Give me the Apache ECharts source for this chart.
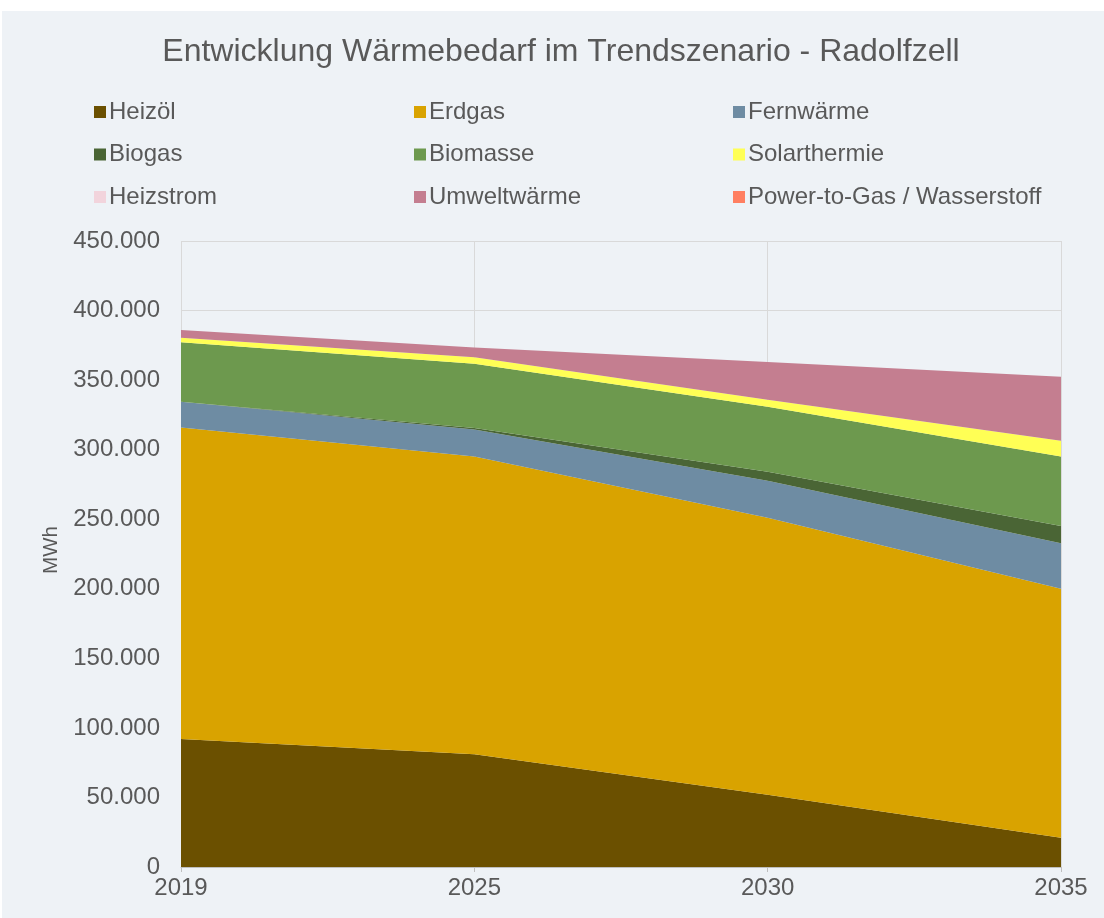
<!DOCTYPE html>
<html>
<head>
<meta charset="utf-8">
<title>Wärmebedarf Radolfzell</title>
<script src="https://cdn.jsdelivr.net/npm/echarts@6/dist/echarts.min.js"></script>
<style>
  html, body { margin: 0; padding: 0; background: #ffffff; }
  #bg { position: absolute; left: 2px; top: 11px; width: 1102px; height: 907px; background: #eef2f6; }
  #main { position: absolute; left: 0; top: 0; width: 1104px; height: 918px; }
</style>
</head>
<body>
<div id="bg"></div>
<div id="main"></div>
<script>
  var years = ['2019', '2025', '2030', '2035'];

  // MWh je Energieträger
  var heizoel    = [92000, 81000, 52000, 21000];
  var erdgas     = [224000, 214000, 199000, 179000];
  var fernwaerme = [18500, 19500, 26600, 32800];
  var biogas     = [0, 1000, 6500, 12400];
  var biomasse   = [42700, 46200, 46700, 49900];
  var solar      = [3300, 4700, 5000, 11300];
  var heizstrom  = [0, 0, 0, 0];
  var umwelt     = [5500, 7000, 27300, 46000];
  var p2g        = [0, 0, 0, 1000];

  var names  = ['Heizöl', 'Erdgas', 'Fernwärme', 'Biogas', 'Biomasse', 'Solarthermie', 'Heizstrom', 'Umweltwärme', 'Power-to-Gas / Wasserstoff'];
  var values = [heizoel, erdgas, fernwaerme, biogas, biomasse, solar, heizstrom, umwelt, p2g];
  var colors = ['#6b5000', '#d9a300', '#6e8ca3', '#4a6535', '#6d994e', '#ffff55', '#f2d4dc', '#c47e90', '#ff7f61'];

  var textColor = '#595959';
  var font = 'Liberation Sans, Arial, sans-serif';

  var series = [];
  for (var i = 0; i < names.length; i++) {
    series.push({
      name: names[i],
      type: 'line',
      stack: 'total',
      symbol: 'none',
      lineStyle: { width: 0 },
      areaStyle: { color: colors[i], opacity: 1 },
      itemStyle: { color: colors[i] },
      data: values[i]
    });
  }

  function legendCol(left, items) {
    return {
      orient: 'vertical',
      left: left,
      top: 95,
      itemGap: 18.5,
      itemWidth: 12,
      itemHeight: 12,
      icon: 'rect',
      textStyle: { color: textColor, fontSize: 24, fontFamily: font, padding: [0, 0, 0, -2] },
      data: items
    };
  }

  var option = {
    backgroundColor: 'transparent',
    animation: false,
    title: {
      text: 'Entwicklung Wärmebedarf im Trendszenario - Radolfzell',
      left: 556,
      textAlign: 'center',
      top: 31,
      textStyle: { color: textColor, fontSize: 32, fontWeight: 'normal', fontFamily: font }
    },
    legend: [
      legendCol(89, [names[0], names[3], names[6]]),
      legendCol(409, [names[1], names[4], names[7]]),
      legendCol(728, [names[2], names[5], names[8]])
    ],
    grid: { left: 181, right: 43, top: 241, bottom: 51 },
    xAxis: {
      type: 'category',
      boundaryGap: false,
      data: years,
      axisLine: { lineStyle: { color: '#bfbfbf' } },
      axisTick: { show: true, length: 5, lineStyle: { color: '#bfbfbf' } },
      axisLabel: { color: textColor, fontSize: 24, margin: 9, fontFamily: font },
      splitLine: { show: true, lineStyle: { color: '#d9d9d9' } }
    },
    yAxis: {
      type: 'value',
      min: 0,
      max: 450000,
      interval: 50000,
      name: 'MWh',
      nameLocation: 'middle',
      nameGap: 119,
      nameRotate: 90,
      nameTextStyle: { color: textColor, fontSize: 20.5, fontFamily: font, padding: [0, 0, 0, 8] },
      axisLine: { show: false },
      axisTick: { show: false },
      axisLabel: {
        color: textColor, fontSize: 24, margin: 21, fontFamily: font,
        formatter: function (v) { return String(v).replace(/\B(?=(\d{3})+(?!\d))/g, '.'); }
      },
      splitLine: { lineStyle: { color: '#d9d9d9' } }
    },
    series: series
  };

  var myChart = echarts.init(document.getElementById('main'));
  myChart.setOption(option);
</script>
</body>
</html>
